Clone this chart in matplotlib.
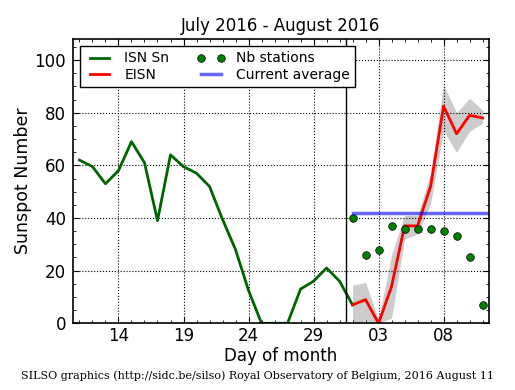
import numpy as np
import pandas as pd
import matplotlib
matplotlib.use('Agg')
from matplotlib import pyplot as plt
import matplotlib.dates as mdates
from matplotlib.ticker import MultipleLocator

plt.rcParams['font.family'] = ['DejaVu Sans']
plt.rcParams['font.size'] = 12

# ISN Sn, 11 July - 1 August 2016
isn_days = pd.date_range('2016-07-11', '2016-08-01')
isn = [62, 59.5, 53, 58, 69, 61, 39, 64, 59.5, 57, 52, 39.5, 28, 12.5, 0, 0, 0, 13, 16, 21, 16, 7]

# EISN, 1 - 11 August 2016
eisn_days = pd.date_range('2016-08-01', '2016-08-11')
eisn = [7, 9, 0, 14, 37, 37, 52, 82.5, 72, 79, 78]
eisn_hi = [14.5, 15.5, 1.5, 26, 41, 41, 57, 90.5, 80, 85.5, 81]
eisn_lo = [0, 1, 0, 2, 32, 34, 45.5, 73, 65, 73, 76]
nb_stations = [40, 26, 28, 37, 36, 36, 36, 35, 33, 25, 7]
current_avg = 42

fig = plt.figure(figsize=(5.15, 3.9), dpi=100)
ax = fig.add_axes([0.1417, 0.171, 0.808, 0.729])

ax.fill_between(eisn_days, eisn_lo, eisn_hi, color='0.8', lw=0)
ax.plot(isn_days, isn, color='darkgreen', lw=2, label='ISN Sn')
ax.plot(eisn_days, eisn, color='red', lw=2, label='EISN')
ax.plot(eisn_days, nb_stations, 'o', color='green', mec='black', mew=0.5, ms=5.5,
        label='Nb stations')
ax.plot([eisn_days[0], pd.Timestamp('2016-08-11 12:00')], [current_avg, current_avg],
        color='blue', alpha=0.6, lw=2.5, label='Current average')
ax.axvline(pd.Timestamp('2016-07-31 12:00'), color='black', lw=1)

ax.set_xlim(pd.Timestamp('2016-07-10 12:00'), pd.Timestamp('2016-08-11 12:00'))
ax.set_ylim(0, 108)

ax.xaxis.set_major_locator(mdates.DayLocator(bymonthday=[3, 8, 14, 19, 24, 29]))
ax.xaxis.set_minor_locator(mdates.DayLocator())
ax.xaxis.set_major_formatter(mdates.DateFormatter('%d'))
ax.yaxis.set_major_locator(MultipleLocator(20))
ax.yaxis.set_minor_locator(MultipleLocator(5))
ax.tick_params(which='both', direction='in', top=True, right=True)
ax.tick_params(which='major', length=4)
ax.tick_params(axis='x', which='major', pad=3)
ax.tick_params(axis='y', which='major', pad=5)
ax.tick_params(which='minor', length=2.5)
ax.grid(True, which='major', color='black', linestyle=':', lw=0.8)
for s in ax.spines.values():
    s.set_linewidth(1.2)

ax.set_title('July 2016 - August 2016', fontsize=12)
ax.set_xlabel('Day of month', labelpad=1)
ax.set_ylabel('Sunspot Number', fontsize=12.5, labelpad=2)

leg = ax.legend(loc='upper left', ncol=2, numpoints=2, fancybox=False,
                framealpha=1, edgecolor='black', handlelength=2,
                handletextpad=0.8, columnspacing=2, borderpad=0.4,
                labelspacing=0.15, borderaxespad=0.5, fontsize=10)
leg.get_frame().set_linewidth(1.0)

fig.text(0.5, 0.036, 'SILSO graphics (http://sidc.be/silso) Royal Observatory of Belgium, 2016 August 11',
         ha='center', va='center', family='DejaVu Serif', fontsize=8)

fig.savefig('out.png', dpi=100)
